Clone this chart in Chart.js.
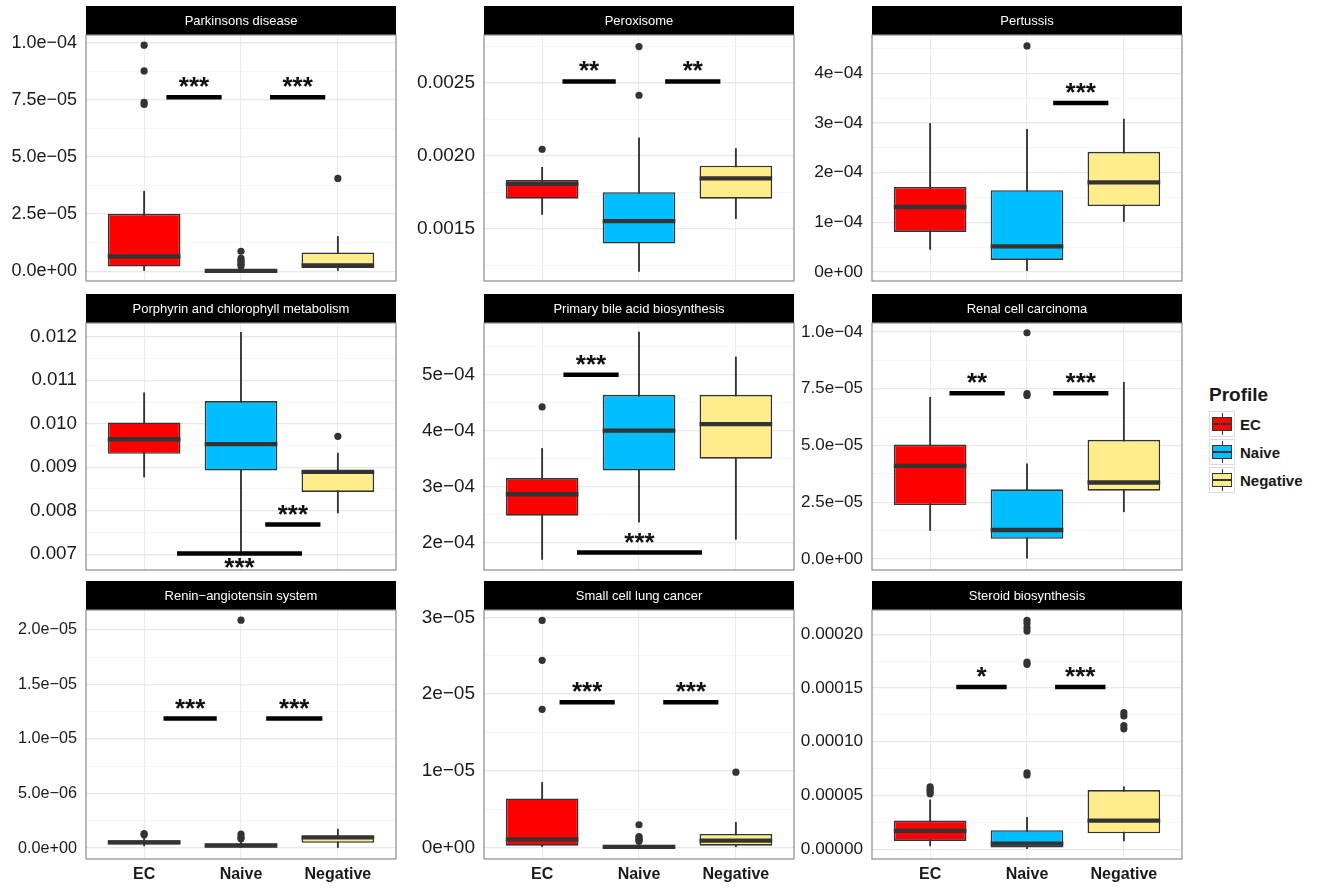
<!DOCTYPE html>
<html>
<head>
<meta charset="utf-8">
<script src="https://cdn.jsdelivr.net/npm/chart.js@4.4.0/dist/chart.umd.min.js"></script>
<style>
  html, body { margin: 0; padding: 0; background: #fff; width: 1319px; height: 888px; overflow: hidden;
    font-family: "Liberation Sans", Arial, sans-serif; }
  .panel { position: absolute; }
  .panel canvas { display: block; }
  #legend { position: absolute; left: 1209px; top: 382px; color: #1a1a1a; }
  #legend .title { font-weight: bold; font-size: 19px; height: 28px; line-height: 26px; }
  #legend .item { height: 28px; display: flex; align-items: center; font-weight: bold; font-size: 15px; }
  #legend .key { position: relative; width: 26px; height: 26px; border: 1px solid #dcdcdc; box-sizing: border-box;
    margin-right: 5px; background: #fff; }
  #legend .key .whisker { position: absolute; left: 12px; top: 1px; width: 1px; height: 22px; background: #333; }
  #legend .key .box { position: absolute; left: 2px; top: 5px; width: 20px; height: 14px; border: 1.5px solid #333;
    box-sizing: border-box; }
  #legend .key .median { position: absolute; left: 2px; top: 11px; width: 20px; height: 2px; background: #333; }
</style>
</head>
<body>
<div id="legend"></div>
<script>
// ---- data ----------------------------------------------------------------
const categories = ['EC', 'Naive', 'Negative'];
const profileColors = ['#FF0000', '#00BFFF', '#FFEC8B'];
const pathways = [
  'Parkinsons disease', 'Peroxisome', 'Pertussis',
  'Porphyrin and chlorophyll metabolism', 'Primary bile acid biosynthesis', 'Renal cell carcinoma',
  'Renin\u2212angiotensin system', 'Small cell lung cancer', 'Steroid biosynthesis'
];

// box summaries per profile: [lower whisker, Q1, median, Q3, upper whisker]
// significance: [x from, x to, y, label, label side]

const parkinsonsBox = [[0, 2.0e-6, 6.4e-6, 2.51e-5, 3.5e-5], [0, 0, 1e-7, 5e-7, 1.2e-6], [0, 1.4e-6, 2.5e-6, 8.2e-6, 1.52e-5]];
const parkinsonsOutliers = [[9.9e-5, 8.77e-5, 7.4e-5, 7.3e-5], [8.7e-6, 5.6e-6, 4.6e-6, 3.8e-6, 3.0e-6, 2.2e-6], [4.06e-5]];
const parkinsonsSig = [[1.23, 1.80, 7.62e-5, '***', 'above'], [2.30, 2.87, 7.62e-5, '***', 'above']];
const parkinsonsRange = [-4.33e-6, 1.0346e-4];
const parkinsonsTicks = [0, 2.5e-5, 5e-5, 7.5e-5, 1e-4];
const parkinsonsTickLabels = ['0.0e+00', '2.5e\u221205', '5.0e\u221205', '7.5e\u221205', '1.0e\u221204'];

const peroxisomeBox = [[0.001597, 0.001705, 0.001807, 0.001834, 0.00192], [0.001207, 0.001398, 0.001552, 0.00175, 0.002123], [0.001568, 0.001705, 0.001845, 0.001931, 0.002049]];
const peroxisomeOutliers = [[0.002044], [0.002748, 0.002414], []];
const peroxisomeSig = [[1.21, 1.76, 0.002509, '**', 'above'], [2.27, 2.84, 0.002509, '**', 'above']];
const peroxisomeRange = [0.001141, 0.002827];
const peroxisomeTicks = [0.0015, 0.0020, 0.0025];
const peroxisomeTickLabels = ['0.0015', '0.0020', '0.0025'];

const pertussisBox = [[0.456e-4, 0.807e-4, 1.309e-4, 1.712e-4, 2.99e-4], [0.026e-4, 0.245e-4, 0.516e-4, 1.646e-4, 2.87e-4], [1.018e-4, 1.329e-4, 1.805e-4, 2.42e-4, 3.08e-4]];
const pertussisOutliers = [[], [4.55e-4], []];
const pertussisSig = [[2.27, 2.84, 3.40e-4, '***', 'above']];
const pertussisRange = [-0.18e-4, 4.77e-4];
const pertussisTicks = [0, 1e-4, 2e-4, 3e-4, 4e-4];
const pertussisTickLabels = ['0e+00', '1e\u221204', '2e\u221204', '3e\u221204', '4e\u221204'];

const porphyrinBox = [[0.008773, 0.00931, 0.009644, 0.01003, 0.010712], [0.00702, 0.008924, 0.00953, 0.010523, 0.012106], [0.007947, 0.008432, 0.008894, 0.008924, 0.009326]];
const porphyrinOutliers = [[], [], [0.009712]];
const porphyrinSig = [[2.25, 2.82, 0.007682, '***', 'above'], [1.34, 2.63, 0.007015, '***', 'below']];
const porphyrinRange = [0.006636, 0.012318];
const porphyrinTicks = [0.007, 0.008, 0.009, 0.010, 0.011, 0.012];
const porphyrinTickLabels = ['0.007', '0.008', '0.009', '0.010', '0.011', '0.012'];

const bileAcidBox = [[1.706e-4, 2.487e-4, 2.869e-4, 3.157e-4, 3.685e-4], [2.37e-4, 3.292e-4, 4.002e-4, 4.642e-4, 5.758e-4], [2.065e-4, 3.503e-4, 4.12e-4, 4.642e-4, 5.318e-4]];
const bileAcidOutliers = [[4.425e-4], [], []];
const bileAcidSig = [[1.22, 1.79, 5.0e-4, '***', 'above'], [1.36, 2.65, 1.83e-4, '***', 'above']];
const bileAcidRange = [1.5185e-4, 5.922e-4];
const bileAcidTicks = [2e-4, 3e-4, 4e-4, 5e-4];
const bileAcidTickLabels = ['2e\u221204', '3e\u221204', '4e\u221204', '5e\u221204'];

const renalBox = [[1.26e-5, 2.38e-5, 4.10e-5, 5.04e-5, 7.12e-5], [0.04e-5, 0.89e-5, 1.28e-5, 3.07e-5, 4.19e-5], [2.08e-5, 3.01e-5, 3.37e-5, 5.25e-5, 7.78e-5]];
const renalOutliers = [[], [9.96e-5, 7.28e-5, 7.2e-5], []];
const renalSig = [[1.20, 1.77, 7.30e-5, '**', 'above'], [2.27, 2.84, 7.30e-5, '***', 'above']];
const renalRange = [-0.48e-5, 10.39e-5];
const renalTicks = [0, 2.5e-5, 5e-5, 7.5e-5, 1e-4];
const renalTickLabels = ['0.0e+00', '2.5e\u221205', '5.0e\u221205', '7.5e\u221205', '1.0e\u221204'];

const reninBox = [[0.2e-6, 0.34e-6, 0.52e-6, 0.73e-6, 0.95e-6], [0, 0.06e-6, 0.24e-6, 0.43e-6, 0.6e-6], [0, 0.49e-6, 0.98e-6, 1.13e-6, 1.74e-6]];
const reninOutliers = [[1.34e-6, 1.22e-6], [2.09e-5, 1.28e-6, 1.0e-6, 0.85e-6], []];
const reninSig = [[1.20, 1.75, 1.188e-5, '***', 'above'], [2.26, 2.84, 1.188e-5, '***', 'above']];
const reninRange = [-1.0e-6, 2.183e-5];
const reninTicks = [0, 5e-6, 1e-5, 1.5e-5, 2e-5];
const reninTickLabels = ['0.0e+00', '5.0e\u221206', '1.0e\u221205', '1.5e\u221205', '2.0e\u221205'];

const smallCellBox = [[0, 0.022e-5, 0.104e-5, 0.638e-5, 0.847e-5], [0, 0, 0.005e-5, 0.035e-5, 0.07e-5], [0, 0.022e-5, 0.087e-5, 0.174e-5, 0.326e-5]];
const smallCellOutliers = [[2.96e-5, 2.44e-5, 1.80e-5], [0.295e-5, 0.14e-5, 0.12e-5, 0.1e-5, 0.08e-5], [0.98e-5]];
const smallCellSig = [[1.18, 1.75, 1.893e-5, '***', 'above'], [2.25, 2.82, 1.893e-5, '***', 'above']];
const smallCellRange = [-0.152e-5, 3.096e-5];
const smallCellTicks = [0, 1e-5, 2e-5, 3e-5];
const smallCellTickLabels = ['0e+00', '1e\u221205', '2e\u221205', '3e\u221205'];

const steroidBox = [[0.3e-5, 0.765e-5, 1.71e-5, 2.66e-5, 4.59e-5], [0, 0.15e-5, 0.52e-5, 1.77e-5, 2.97e-5], [0.765e-5, 1.47e-5, 2.66e-5, 5.50e-5, 5.81e-5]];
const steroidOutliers = [[5.81e-5, 5.6e-5, 5.4e-5, 5.15e-5], [21.3e-5, 21.0e-5, 20.6e-5, 20.3e-5, 17.4e-5, 17.2e-5, 7.1e-5, 6.9e-5], [12.7e-5, 12.4e-5, 11.5e-5, 11.2e-5]];
const steroidSig = [[1.27, 1.79, 15.1e-5, '*', 'above'], [2.29, 2.81, 15.1e-5, '***', 'above']];
const steroidRange = [-0.917e-5, 22.26e-5];
const steroidTicks = [0, 5e-5, 1e-4, 1.5e-4, 2e-4];
const steroidTickLabels = ['0.00000', '0.00005', '0.00010', '0.00015', '0.00020'];

// ---- facet assembly ----------------------------------------------------------
const facets = [
  { box: parkinsonsBox, outliers: parkinsonsOutliers, sig: parkinsonsSig, range: parkinsonsRange, ticks: parkinsonsTicks, labels: parkinsonsTickLabels },
  { box: peroxisomeBox, outliers: peroxisomeOutliers, sig: peroxisomeSig, range: peroxisomeRange, ticks: peroxisomeTicks, labels: peroxisomeTickLabels },
  { box: pertussisBox, outliers: pertussisOutliers, sig: pertussisSig, range: pertussisRange, ticks: pertussisTicks, labels: pertussisTickLabels },
  { box: porphyrinBox, outliers: porphyrinOutliers, sig: porphyrinSig, range: porphyrinRange, ticks: porphyrinTicks, labels: porphyrinTickLabels },
  { box: bileAcidBox, outliers: bileAcidOutliers, sig: bileAcidSig, range: bileAcidRange, ticks: bileAcidTicks, labels: bileAcidTickLabels },
  { box: renalBox, outliers: renalOutliers, sig: renalSig, range: renalRange, ticks: renalTicks, labels: renalTickLabels },
  { box: reninBox, outliers: reninOutliers, sig: reninSig, range: reninRange, ticks: reninTicks, labels: reninTickLabels },
  { box: smallCellBox, outliers: smallCellOutliers, sig: smallCellSig, range: smallCellRange, ticks: smallCellTicks, labels: smallCellTickLabels },
  { box: steroidBox, outliers: steroidOutliers, sig: steroidSig, range: steroidRange, ticks: steroidTicks, labels: steroidTickLabels }
];

// ---- layout ------------------------------------------------------------------
const PANEL_LEFT = [86, 484, 872];
const AXIS_W = [86, 84, 84];
const ROW_TOP = [6, 294, 581];
const STRIP_H = 29;
const PANEL_W = 313;
const PANEL_H = [249, 250, 249];
const X_AXIS_H = 28;
const TICK_SIZE = [18, 19, 17.4, 18.8, 18.9, 17, 16.2, 19, 17.2];
const INK = '#333333';
const FONT = '"Liberation Sans", Arial, sans-serif';

// strip header above each panel, and the panel frame
const stripPlugin = {
  id: 'facetStrip',
  beforeDraw(chart, args, opts) {
    const { ctx, chartArea: a } = chart;
    ctx.save();
    ctx.fillStyle = '#000';
    ctx.fillRect(a.left, a.top - STRIP_H, a.right - a.left, STRIP_H);
    ctx.fillStyle = '#fff';
    ctx.font = '13px ' + FONT;
    ctx.textAlign = 'center';
    ctx.textBaseline = 'middle';
    ctx.fillText(opts.text, (a.left + a.right) / 2, a.top - STRIP_H / 2 + 1);
    ctx.restore();
  },
  afterDraw(chart) {
    const { ctx, chartArea: a } = chart;
    ctx.save();
    ctx.strokeStyle = '#8c8c8c';
    ctx.lineWidth = 1.2;
    ctx.strokeRect(a.left, a.top, a.right - a.left, a.bottom - a.top);
    ctx.restore();
  }
};

// median bar across each box, drawn right after the boxes
const medianPlugin = {
  id: 'boxMedian',
  afterDatasetDraw(chart, args) {
    const ds = chart.data.datasets[args.index];
    if (!ds.medians) return;
    const { ctx } = chart;
    const y = chart.scales.y;
    ctx.save();
    ctx.strokeStyle = INK;
    ctx.lineWidth = 4.3;
    ctx.lineCap = 'butt';
    args.meta.data.forEach((el, i) => {
      const { x, width } = el.getProps(['x', 'width'], true);
      const py = y.getPixelForValue(ds.medians[i]);
      ctx.beginPath();
      ctx.moveTo(x - width / 2, py);
      ctx.lineTo(x + width / 2, py);
      ctx.stroke();
    });
    ctx.restore();
  }
};

// significance stars over the comparison bars
const sigLabelPlugin = {
  id: 'sigLabels',
  afterDatasetsDraw(chart) {
    const { ctx } = chart;
    const xs = chart.scales.x, ys = chart.scales.y;
    chart.data.datasets.forEach(ds => {
      if (!ds.sigLabel) return;
      const xm = xs.getPixelForValue((ds.data[0].x + ds.data[1].x) / 2);
      const yp = ys.getPixelForValue(ds.data[0].y);
      ctx.save();
      ctx.font = 'bold 26px ' + FONT;
      ctx.fillStyle = '#111';
      ctx.textAlign = 'center';
      ctx.textBaseline = 'alphabetic';
      ctx.fillText(ds.sigLabel, xm, ds.sigSide === 'below' ? yp + 22 : yp - 2);
      ctx.restore();
    });
  }
};

function buildYTicks(f) {
  const step = f.ticks[1] - f.ticks[0];
  const out = [];
  const first = f.ticks[0] - step / 2;
  for (let v = first; v <= f.range[1] + 1e-15; v += step / 2) {
    if (v < f.range[0]) continue;
    const isMajor = f.ticks.some(t => Math.abs(t - v) < step * 1e-6);
    out.push({ value: v, minor: !isMajor });
  }
  return out;
}

function makeFacet(index) {
  const f = facets[index];
  const col = index % 3, row = Math.floor(index / 3);
  const showX = row === 2;
  const axisW = AXIS_W[col];
  const width = axisW + PANEL_W + 1;
  const height = STRIP_H + PANEL_H[row] + (showX ? X_AXIS_H : 1);

  const holder = document.createElement('div');
  holder.className = 'panel';
  holder.style.left = (PANEL_LEFT[col] - axisW) + 'px';
  holder.style.top = ROW_TOP[row] + 'px';
  const canvas = document.createElement('canvas');
  canvas.width = width;
  canvas.height = height;
  canvas.style.width = width + 'px';
  canvas.style.height = height + 'px';
  holder.appendChild(canvas);
  document.body.appendChild(holder);

  const datasets = [];
  // whiskers
  datasets.push({
    type: 'bar',
    data: f.box.map((b, i) => ({ x: i + 1, y: [b[0], b[4]] })),
    backgroundColor: INK,
    barThickness: 1.2,
    grouped: false,
    order: 6
  });
  // boxes
  datasets.push({
    type: 'bar',
    data: f.box.map((b, i) => ({ x: i + 1, y: [b[1], b[3]] })),
    medians: f.box.map(b => b[2]),
    backgroundColor: profileColors,
    borderColor: INK,
    borderWidth: 1.6,
    borderSkipped: false,
    barPercentage: 0.75,
    categoryPercentage: 1,
    grouped: false,
    order: 5
  });
  // outliers
  const pts = [];
  f.outliers.forEach((list, i) => list.forEach(v => pts.push({ x: i + 1, y: v })));
  datasets.push({
    type: 'scatter',
    data: pts,
    backgroundColor: INK,
    borderWidth: 0,
    pointRadius: 3.6,
    order: 3
  });
  // significance bars
  f.sig.forEach(s => {
    datasets.push({
      type: 'line',
      data: [{ x: s[0], y: s[2] }, { x: s[1], y: s[2] }],
      sigLabel: s[3],
      sigSide: s[4],
      borderColor: '#000',
      borderWidth: 4.5,
      borderCapStyle: 'butt',
      pointRadius: 0,
      fill: false,
      order: 1
    });
  });

  new Chart(canvas, {
    type: 'bar',
    data: { datasets },
    plugins: [stripPlugin, medianPlugin, sigLabelPlugin],
    options: {
      responsive: false,
      animation: false,
      events: [],
      layout: { padding: { top: STRIP_H, right: 1, bottom: showX ? 0 : 1, left: 0 } },
      plugins: {
        legend: { display: false },
        tooltip: { enabled: false },
        facetStrip: { text: pathways[index] }
      },
      scales: {
        x: {
          type: 'linear',
          min: 0.4,
          max: 3.6,
          offset: false,
          bounds: 'data',
          grid: { offset: false, color: '#ebebeb', lineWidth: 1.1, drawTicks: false },
          border: { display: false },
          afterBuildTicks: s => { s.ticks = categories.map((c, i) => ({ value: i + 1 })); },
          afterFit: s => { s.height = showX ? X_AXIS_H : 0; s.paddingLeft = 0; s.paddingRight = 0; },
          ticks: {
            display: showX,
            autoSkip: false,
            maxRotation: 0,
            padding: 6,
            color: '#1a1a1a',
            font: { family: FONT, size: 16, weight: 'bold' },
            callback: v => categories[Math.round(v) - 1]
          }
        },
        y: {
          type: 'linear',
          min: f.range[0],
          max: f.range[1],
          beginAtZero: false,
          bounds: 'data',
          grid: {
            drawTicks: false,
            color: c => (c.tick && c.tick.minor) ? '#f4f4f4' : '#e8e8e8',
            lineWidth: c => (c.tick && c.tick.minor) ? 0.8 : 1.2
          },
          border: { display: false },
          afterBuildTicks: s => { s.ticks = buildYTicks(f); },
          afterFit: s => { s.width = axisW; s.paddingTop = 0; s.paddingBottom = 0; },
          ticks: {
            autoSkip: false,
            padding: 9,
            color: '#1a1a1a',
            font: { family: FONT, size: TICK_SIZE[index] },
            callback: (v, i, ticks) => {
              if (ticks[i].minor) return '';
              const k = f.ticks.findIndex(t => Math.abs(t - v) < Math.abs(f.ticks[1] - f.ticks[0]) * 1e-6);
              return k >= 0 ? f.labels[k] : '';
            }
          }
        }
      }
    }
  });
}

facets.forEach((f, i) => makeFacet(i));

// ---- legend -----------------------------------------------------------------
const legend = document.getElementById('legend');
const title = document.createElement('div');
title.className = 'title';
title.textContent = 'Profile';
legend.appendChild(title);
categories.forEach((c, i) => {
  const item = document.createElement('div');
  item.className = 'item';
  const key = document.createElement('span');
  key.className = 'key';
  key.innerHTML = '<span class="whisker"></span><span class="box" style="background:' + profileColors[i] +
    '"></span><span class="median"></span>';
  item.appendChild(key);
  item.appendChild(document.createTextNode(c));
  legend.appendChild(item);
});
</script>
</body>
</html>
